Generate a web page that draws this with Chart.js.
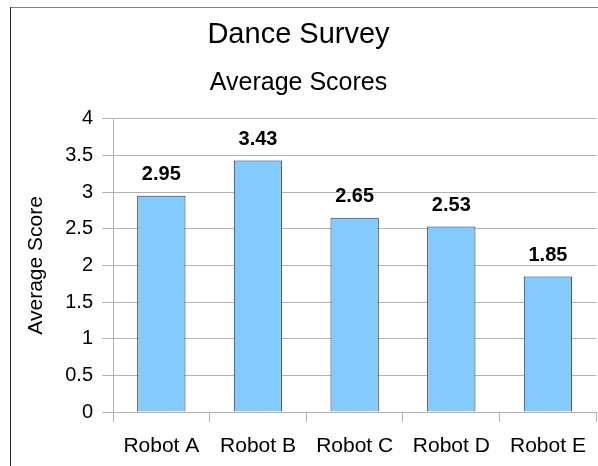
<!DOCTYPE html>
<html>
<head>
<meta charset="utf-8">
<script src="https://cdn.jsdelivr.net/npm/chart.js@4/dist/chart.umd.min.js"></script>
<style>
  body { margin: 0; background: #fff; }
  canvas { display: block; }
</style>
</head>
<body>
<canvas id="chart" width="598" height="466"></canvas>
<script>
// datos
const robots = ["Robot A", "Robot B", "Robot C", "Robot D", "Robot E"];
const promedios = [2.95, 3.43, 2.65, 2.53, 1.85];

const FUENTE = "'Liberation Sans', Arial, sans-serif";
const GRIS = "#b3b3b3";

// marco exterior (solo bordes izquierdo y superior se ven en la imagen)
const marco = {
  id: "marco",
  beforeDraw(chart) {
    const ctx = chart.ctx;
    ctx.save();
    ctx.lineWidth = 1;
    ctx.strokeStyle = "#808080";
    ctx.beginPath();
    ctx.moveTo(10, 7.5);
    ctx.lineTo(598, 7.5);
    ctx.stroke();
    ctx.strokeStyle = "#222";
    ctx.beginPath();
    ctx.moveTo(10.5, 7);
    ctx.lineTo(10.5, 466);
    ctx.stroke();
    ctx.restore();
  },
};

// etiquetas de valor encima de cada barra
const etiquetas = {
  id: "etiquetas",
  afterDatasetsDraw(chart) {
    const ctx = chart.ctx;
    const meta = chart.getDatasetMeta(0);
    ctx.save();
    ctx.font = "bold 20px " + FUENTE;
    ctx.fillStyle = "#000";
    ctx.textAlign = "center";
    ctx.textBaseline = "middle";
    meta.data.forEach((bar, i) => {
      ctx.fillText(promedios[i].toFixed(2), bar.x, bar.y - 21);
    });
    ctx.restore();
  },
};

new Chart(document.getElementById("chart"), {
  type: "bar",
  data: {
    labels: robots,
    datasets: [
      {
        data: promedios,
        backgroundColor: "#83caff",
        borderColor: "#333333",
        borderWidth: 1,
        barPercentage: 0.5,
        categoryPercentage: 1.0,
      },
    ],
  },
  options: {
    responsive: false,
    animation: false,
    layout: { padding: { left: 0, right: 1, top: 7, bottom: 0 } },
    plugins: {
      legend: { display: false },
      tooltip: { enabled: false },
      title: {
        display: true,
        text: "Dance Survey",
        color: "#000",
        font: { family: FUENTE, size: 29, weight: "normal" },
        padding: { top: 11, bottom: 6 },
      },
      subtitle: {
        display: true,
        text: "Average Scores",
        color: "#000",
        font: { family: FUENTE, size: 25, weight: "normal" },
        padding: { top: 9, bottom: 21 },
      },
    },
    scales: {
      x: {
        offset: true,
        grid: {
          offset: true,
          color: (c) => (c.index === robots.length ? GRIS : "rgba(0,0,0,0)"),
          tickColor: GRIS,
          tickLength: 10,
          drawOnChartArea: true,
        },
        border: { color: GRIS },
        ticks: {
          color: "#000",
          font: { family: FUENTE, size: 21 },
          padding: 12,
          maxRotation: 0,
        },
        afterFit: (s) => { s.height = 54; },
      },
      y: {
        min: 0,
        max: 4,
        ticks: {
          stepSize: 0.5,
          color: "#000",
          font: { family: FUENTE, size: 20 },
          padding: 9,
          callback: (v) => String(v),
        },
        grid: { color: GRIS, tickLength: 11 },
        border: { color: GRIS },
        title: {
          display: true,
          text: "Average Score",
          color: "#000",
          font: { family: FUENTE, size: 21 },
          padding: { top: 24, bottom: 0 },
        },
        afterFit: (s) => { s.width = 113; },
      },
    },
  },
  plugins: [marco, etiquetas],
});
</script>
</body>
</html>
